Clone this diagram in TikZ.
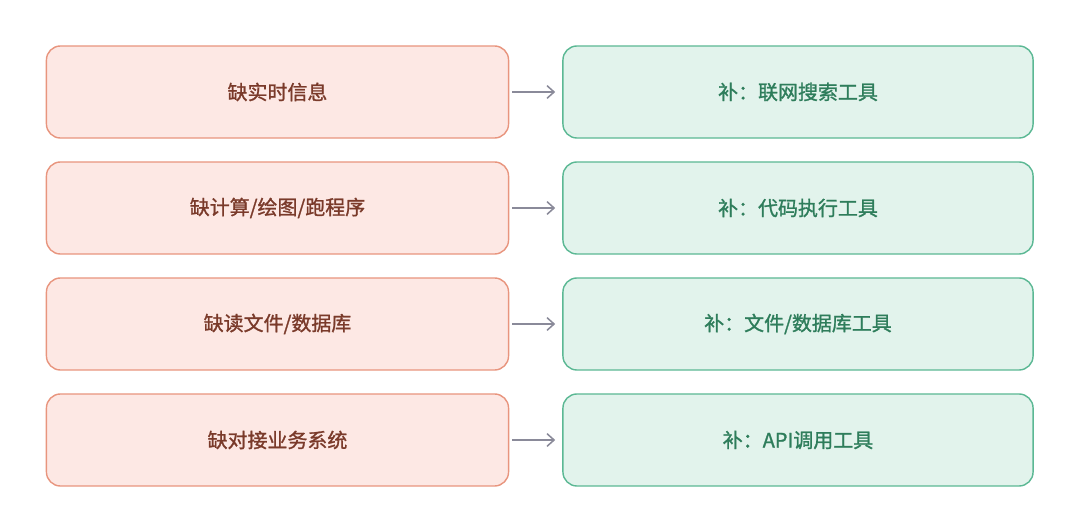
\documentclass[tikz,border=0pt]{standalone}
\usepackage{fontspec}
\setmainfont{Noto Sans CJK SC}
\newfontfamily\boxfont[FakeBold=1.2]{Noto Sans CJK SC}
\usetikzlibrary{arrows.meta,positioning}
\definecolor{gapfill}{HTML}{FDE8E4}
\definecolor{gapdraw}{HTML}{E8957E}
\definecolor{gaptext}{HTML}{7A3A2A}
\definecolor{fixfill}{HTML}{E2F3EC}
\definecolor{fixdraw}{HTML}{5BB894}
\definecolor{fixtext}{HTML}{2E7D5B}
\definecolor{linkgray}{HTML}{8A8A99}
\tikzset{
    gapbox/.style={
        rectangle,
        rounded corners=0.35cm,
        fill=gapfill,
        draw=gapdraw, line width=1pt,
        minimum width=11.55cm,
        minimum height=2.3cm,
        text=gaptext,
        font={\fontsize{14.2pt}{17}\selectfont\boxfont}
    },
    fixbox/.style={
        rectangle,
        rounded corners=0.35cm,
        fill=fixfill,
        draw=fixdraw, line width=1pt,
        minimum width=11.75cm,
        minimum height=2.3cm,
        text=fixtext,
        font={\fontsize{14.2pt}{17}\selectfont\boxfont}
    },
    link/.style={draw=linkgray, line width=1.1pt,
        -{Straight Barb[length=5pt,width=9pt]},
        shorten <=2pt, shorten >=5pt},
}
\begin{document}
\begin{tikzpicture}[x=0.025cm, y=0.025cm]
\useasboundingbox (0,0) rectangle (1080,525);

\foreach \l [count=\i] in {缺实时信息, 缺计算/绘图/跑程序, 缺读文件/数据库, 缺对接业务系统}
  \node [gapbox] (gap-\i) at (277.5, 525-92-116*\i+116) {\l};

\foreach \l [count=\i] in {补：联网搜索工具, 补：代码执行工具, 补：文件/数据库工具, 补：API调用工具}
  \node [fixbox] (fix-\i) at (798, 525-92-116*\i+116) {\l};

\foreach \i in {1,...,4}
  \draw [link] (gap-\i) -- (fix-\i);

\end{tikzpicture}
\end{document}
